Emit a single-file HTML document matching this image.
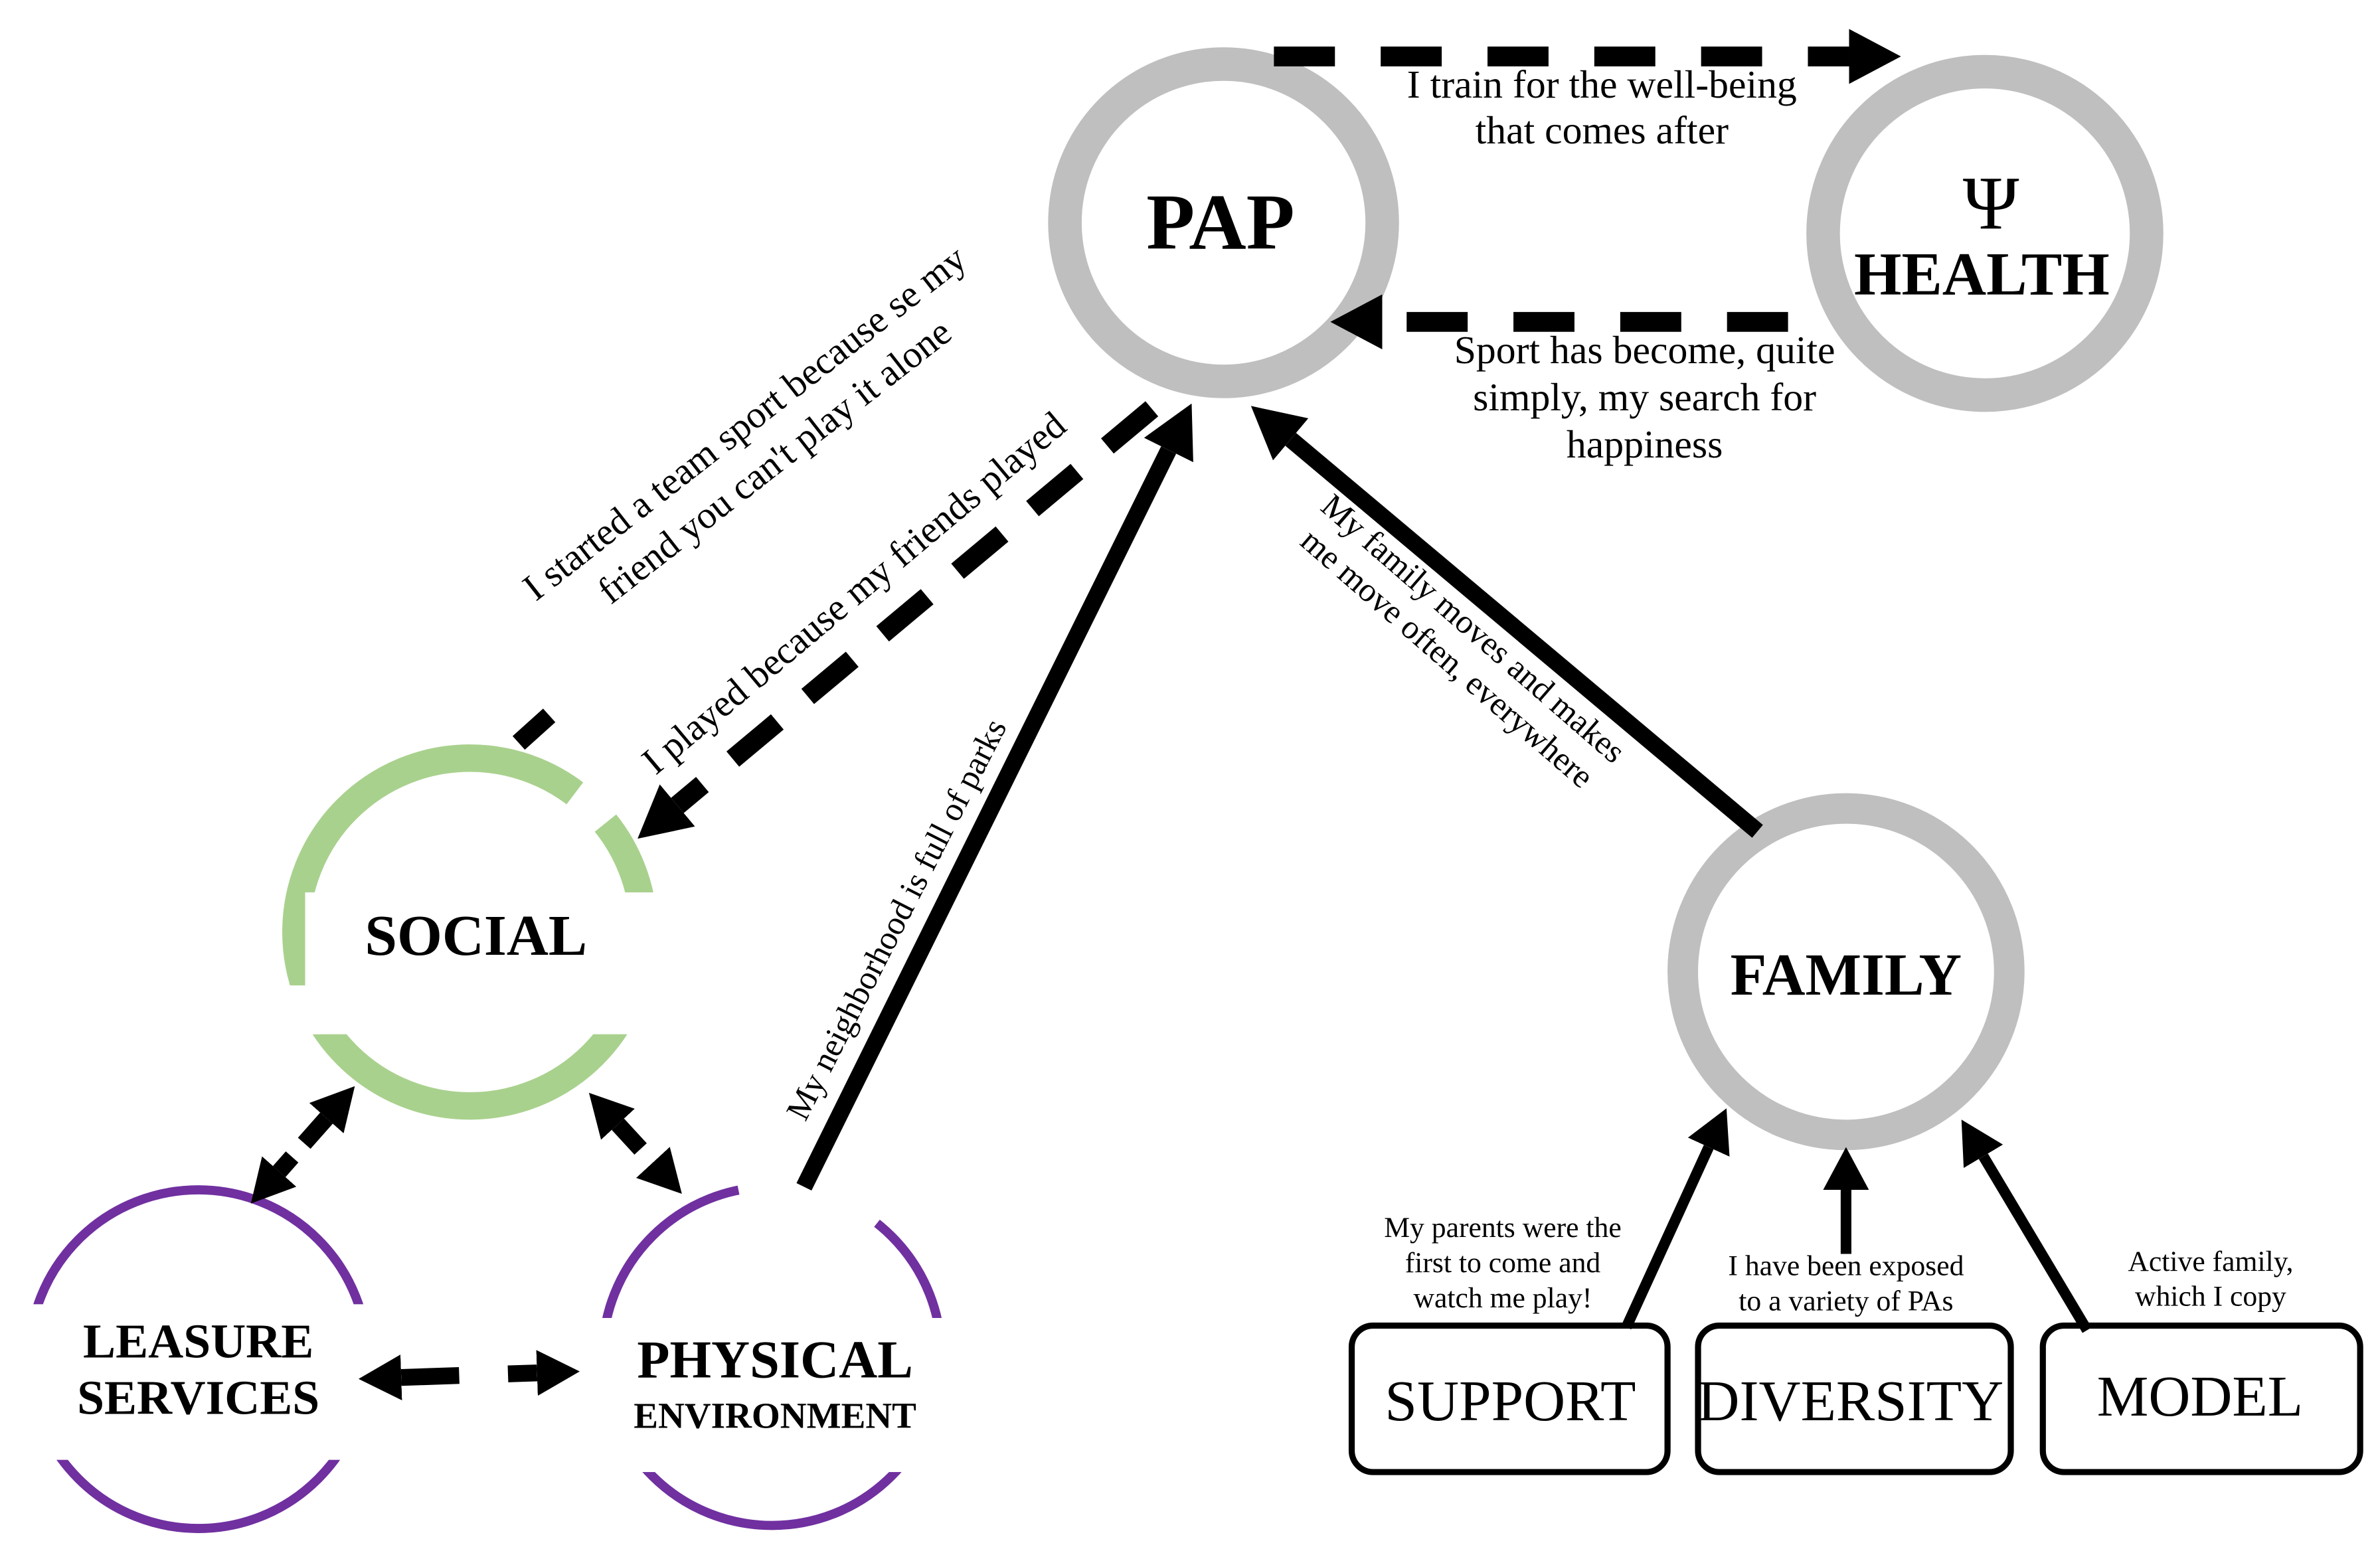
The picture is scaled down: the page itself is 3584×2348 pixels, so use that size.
<!DOCTYPE html>
<html><head><meta charset="utf-8"><style>
html,body{margin:0;padding:0;background:#fff}
svg{display:block}
text{font-family:"Liberation Serif",serif;fill:#000}
.b{font-weight:bold}
</style></head><body>
<svg width="3584" height="2348" viewBox="0 0 1560 1022" preserveAspectRatio="none" xmlns="http://www.w3.org/2000/svg">
<defs>
<marker id="h" markerUnits="userSpaceOnUse" markerWidth="40" markerHeight="40" refX="0" refY="18" orient="auto-start-reverse"><path d="M0,0 L34,18 L0,36 z" fill="#000"/></marker>
<marker id="hs" markerUnits="userSpaceOnUse" markerWidth="34" markerHeight="34" refX="0" refY="15" orient="auto-start-reverse"><path d="M0,0 L28,15 L0,30 z" fill="#000"/></marker>
</defs>
<rect width="1560" height="1022" fill="#fff"/>

<circle cx="802" cy="146" r="104" fill="none" stroke="#bfbfbf" stroke-width="22"/>
<circle cx="1301" cy="153" r="106" fill="none" stroke="#bfbfbf" stroke-width="22"/>
<circle cx="1210" cy="637" r="107" fill="none" stroke="#bfbfbf" stroke-width="20"/>

<circle cx="308" cy="611" r="114" fill="none" stroke="#a9d18e" stroke-width="18"/>
<rect x="200" y="585" width="245" height="93" fill="#fff"/>
<rect x="170" y="646" width="40" height="32" fill="#fff"/>
<polygon points="308,611 392,500 415,525" fill="#fff"/>

<circle cx="130" cy="891" r="111" fill="none" stroke="#7030a0" stroke-width="6"/>
<rect x="10" y="855" width="240" height="102" fill="#fff"/>
<circle cx="506" cy="889" r="111" fill="none" stroke="#7030a0" stroke-width="6"/>
<rect x="385" y="864" width="240" height="101" fill="#fff"/>
<polygon points="506,889 480,760 600,770" fill="#fff"/>

<rect x="886" y="869" width="207" height="96" rx="14" fill="none" stroke="#000" stroke-width="4"/>
<rect x="1113" y="869" width="205" height="96" rx="14" fill="none" stroke="#000" stroke-width="4"/>
<rect x="1339" y="869" width="208" height="96" rx="14" fill="none" stroke="#000" stroke-width="4"/>

<line x1="835" y1="37" x2="1212" y2="37" stroke="#000" stroke-width="13" stroke-dasharray="40 30" marker-end="url(#h)"/>
<line x1="1172" y1="211" x2="906" y2="211" stroke="#000" stroke-width="13" stroke-dasharray="40 30" marker-end="url(#h)"/>

<line x1="755" y1="268" x2="444" y2="528" stroke="#000" stroke-width="13" stroke-dasharray="38 26" marker-end="url(#h)"/>
<line x1="340" y1="487" x2="360" y2="469" stroke="#000" stroke-width="12"/>

<line x1="527" y1="778" x2="766" y2="295" stroke="#000" stroke-width="11" marker-end="url(#h)"/>
<line x1="1152" y1="545" x2="846" y2="288" stroke="#000" stroke-width="11" marker-end="url(#h)"/>

<line x1="1066" y1="870" x2="1120" y2="752" stroke="#000" stroke-width="7" marker-end="url(#hs)"/>
<line x1="1210" y1="822" x2="1210" y2="780" stroke="#000" stroke-width="7" marker-end="url(#hs)"/>
<line x1="1368" y1="872" x2="1300" y2="758" stroke="#000" stroke-width="7" marker-end="url(#hs)"/>

<line x1="214" y1="733" x2="183" y2="768" stroke="#000" stroke-width="11" stroke-dasharray="22 12" marker-start="url(#hs)" marker-end="url(#hs)"/>
<line x1="405" y1="737" x2="428" y2="762" stroke="#000" stroke-width="11" stroke-dasharray="22 12" marker-start="url(#hs)" marker-end="url(#hs)"/>
<line x1="263" y1="903" x2="352" y2="900" stroke="#000" stroke-width="11" stroke-dasharray="38 32" marker-start="url(#hs)" marker-end="url(#hs)"/>

<text x="800" y="163" font-size="52" class="b" text-anchor="middle">PAP</text>
<text x="1305" y="150" font-size="50" text-anchor="middle">Ψ</text>
<text x="1299" y="193" font-size="40" class="b" text-anchor="middle">HEALTH</text>
<text x="312" y="626" font-size="38" class="b" text-anchor="middle">SOCIAL</text>
<text x="1210" y="652" font-size="39" class="b" text-anchor="middle">FAMILY</text>
<text x="130" y="890" font-size="32" class="b" text-anchor="middle">LEASURE</text>
<text x="130" y="927" font-size="32" class="b" text-anchor="middle">SERVICES</text>
<text x="508" y="903" font-size="35" class="b" text-anchor="middle">PHYSICAL</text>
<text x="508" y="936" font-size="24" class="b" text-anchor="middle">ENVIRONMENT</text>
<text x="990" y="931" font-size="38" text-anchor="middle">SUPPORT</text>
<text x="1213" y="931" font-size="38" text-anchor="middle">DIVERSITY</text>
<text x="1442" y="928" font-size="38" text-anchor="middle">MODEL</text>

<text font-size="26" text-anchor="middle"><tspan x="1050" y="64">I train for the well-being</tspan><tspan x="1050" y="94">that comes after</tspan></text>
<text font-size="26" text-anchor="middle"><tspan x="1078" y="238">Sport has become, quite</tspan><tspan x="1078" y="269">simply, my search for</tspan><tspan x="1078" y="300">happiness</tspan></text>
<text font-size="19" text-anchor="middle"><tspan x="985" y="811">My parents were the</tspan><tspan x="985" y="834">first to come and</tspan><tspan x="985" y="857">watch me play!</tspan></text>
<text font-size="19" text-anchor="middle"><tspan x="1210" y="836">I have been exposed</tspan><tspan x="1210" y="859">to a variety of PAs</tspan></text>
<text font-size="19" text-anchor="middle"><tspan x="1449" y="833">Active family,</tspan><tspan x="1449" y="856">which I copy</tspan></text>

<g transform="translate(498,290) rotate(-38)"><text font-size="25" text-anchor="middle"><tspan x="0" y="-8">I started a team sport because se my</tspan><tspan x="0" y="24">friend you can't play it alone</tspan></text></g>
<g transform="translate(565,395) rotate(-40)"><text font-size="25" text-anchor="middle" x="0" y="0">I played because my friends played</text></g>
<g transform="translate(594,606) rotate(-63)"><text font-size="22" text-anchor="middle" x="0" y="0">My neighborhood is full of parks</text></g>
<g transform="translate(957,422) rotate(41)"><text font-size="22" text-anchor="middle"><tspan x="0" y="-6">My family moves and makes</tspan><tspan x="0" y="20">me move often, everywhere</tspan></text></g>
</svg>
</body></html>
